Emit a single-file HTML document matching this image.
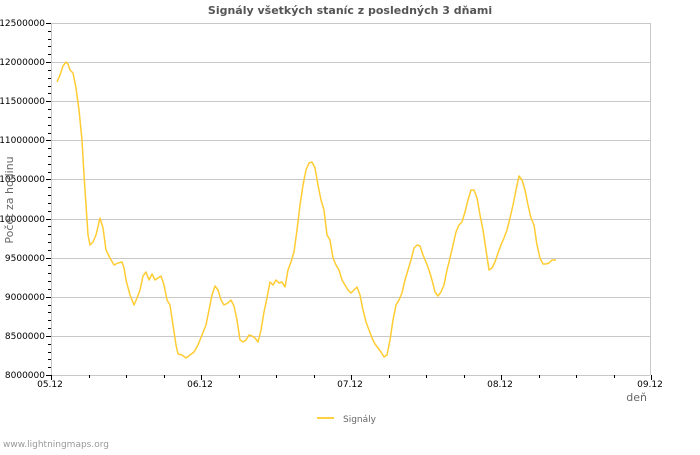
<!DOCTYPE html>
<html><head><meta charset="utf-8"><style>
body{margin:0;background:#fff;width:700px;height:450px;overflow:hidden}
text{font-family:"DejaVu Sans","Liberation Sans",sans-serif}
</style></head><body>
<svg width="700" height="450" xmlns="http://www.w3.org/2000/svg">
<text x="350" y="14" text-anchor="middle" font-size="11" font-weight="bold" fill="#555">Signály všetkých staníc z posledných 3 dňami</text>
<g stroke="#c8c8c8" stroke-width="1">
<line x1="51" y1="23.5" x2="650" y2="23.5"/>
<line x1="51" y1="62.5" x2="650" y2="62.5"/>
<line x1="51" y1="101.5" x2="650" y2="101.5"/>
<line x1="51" y1="140.5" x2="650" y2="140.5"/>
<line x1="51" y1="179.5" x2="650" y2="179.5"/>
<line x1="51" y1="219.5" x2="650" y2="219.5"/>
<line x1="51" y1="258.5" x2="650" y2="258.5"/>
<line x1="51" y1="297.5" x2="650" y2="297.5"/>
<line x1="51" y1="336.5" x2="650" y2="336.5"/>
<line x1="650.5" y1="23" x2="650.5" y2="375"/>
<line x1="51" y1="375.5" x2="650" y2="375.5"/>
<line x1="51.5" y1="23" x2="51.5" y2="375"/>
</g>
<g stroke="#000" stroke-width="1" id="ticks"></g>
<g font-size="9" fill="#000" text-anchor="end">
<text x="45" y="26">12500000</text><text x="45" y="65">12000000</text><text x="45" y="104">11500000</text><text x="45" y="143">11000000</text><text x="45" y="182">10500000</text><text x="45" y="222">10000000</text><text x="45" y="261">9500000</text><text x="45" y="300">9000000</text><text x="45" y="339">8500000</text><text x="45" y="378">8000000</text>
</g>
<g font-size="9" fill="#000" text-anchor="middle">
<text x="50" y="387">05.12</text><text x="200" y="387">06.12</text><text x="350" y="387">07.12</text><text x="500" y="387">08.12</text><text x="650" y="387">09.12</text>
</g>
<text x="647" y="401" font-size="11" fill="#666" text-anchor="end">deň</text>
<text transform="translate(13,200) rotate(-90)" font-size="11" fill="#666" text-anchor="middle">Počet za hodinu</text>
<line x1="317" y1="418" x2="334" y2="418" stroke="#ffd040" stroke-width="2"/>
<text x="343" y="422" font-size="9" fill="#666">Signály</text>
<text x="3" y="447" font-size="9" fill="#999">www.lightningmaps.org</text>
<polyline fill="none" stroke="#ffcc33" stroke-width="1.5" stroke-linejoin="round" points="57,82 60,75 63,66 66,62 68,64 70,70 73,73 76,88 79,110 82,140 84,175 86,205 88,235 90,245 93,242 96,235 100,218 103,228 106,250 110,258 114,265 118,263 122,262 124,268 126,280 130,295 134,305 137,298 140,290 143,276 146,272 149,280 152,274 155,280 158,278 161,276 164,285 167,300 170,305 173,325 176,345 178,354 182,355 186,358 190,355 194,352 198,345 202,335 206,325 209,310 212,295 215,286 218,290 221,300 224,305 228,303 231,300 234,306 237,320 240,340 243,342 246,340 249,335 252,336 255,338 258,342 261,330 264,312 267,298 270,282 273,285 276,280 279,283 282,282 285,287 288,270 291,262 294,252 297,230 300,205 303,185 306,170 309,163 312,162 315,168 318,185 321,200 324,210 327,235 330,240 333,258 336,265 339,270 342,280 345,285 348,290 351,293 354,290 357,287 360,295 363,310 366,322 369,330 372,338 375,344 378,348 381,352 384,357 387,355 390,340 393,320 396,305 399,300 402,293 405,280 408,270 411,260 414,248 417,245 420,246 423,255 426,262 429,270 432,280 435,292 438,296 441,292 444,285 447,270 450,258 453,245 456,232 459,225 462,222 465,212 468,200 471,190 474,190 477,198 480,215 483,230 486,250 489,270 492,268 495,262 498,253 501,245 504,238 507,230 510,218 513,205 516,190 519,176 522,180 525,190 528,205 531,218 534,225 537,245 540,258 543,264 546,264 549,263 552,260 556,260"/>
</svg>
<script>
var g=document.getElementById('ticks'),s='';
for(var i=0;i<=45;i++){var y=23+i*352/45;s+='<line x1="'+(i%5?48:46)+'" y1="'+(Math.round(y)+.5)+'" x2="51" y2="'+(Math.round(y)+.5)+'"/>';}
for(var j=0;j<=16;j++){var x=51+j*37.5;s+='<line x1="'+(Math.round(x)+.5)+'" y1="375" x2="'+(Math.round(x)+.5)+'" y2="'+(j%4?378:380)+'"/>';}
g.innerHTML=s;
</script>
</body></html>
